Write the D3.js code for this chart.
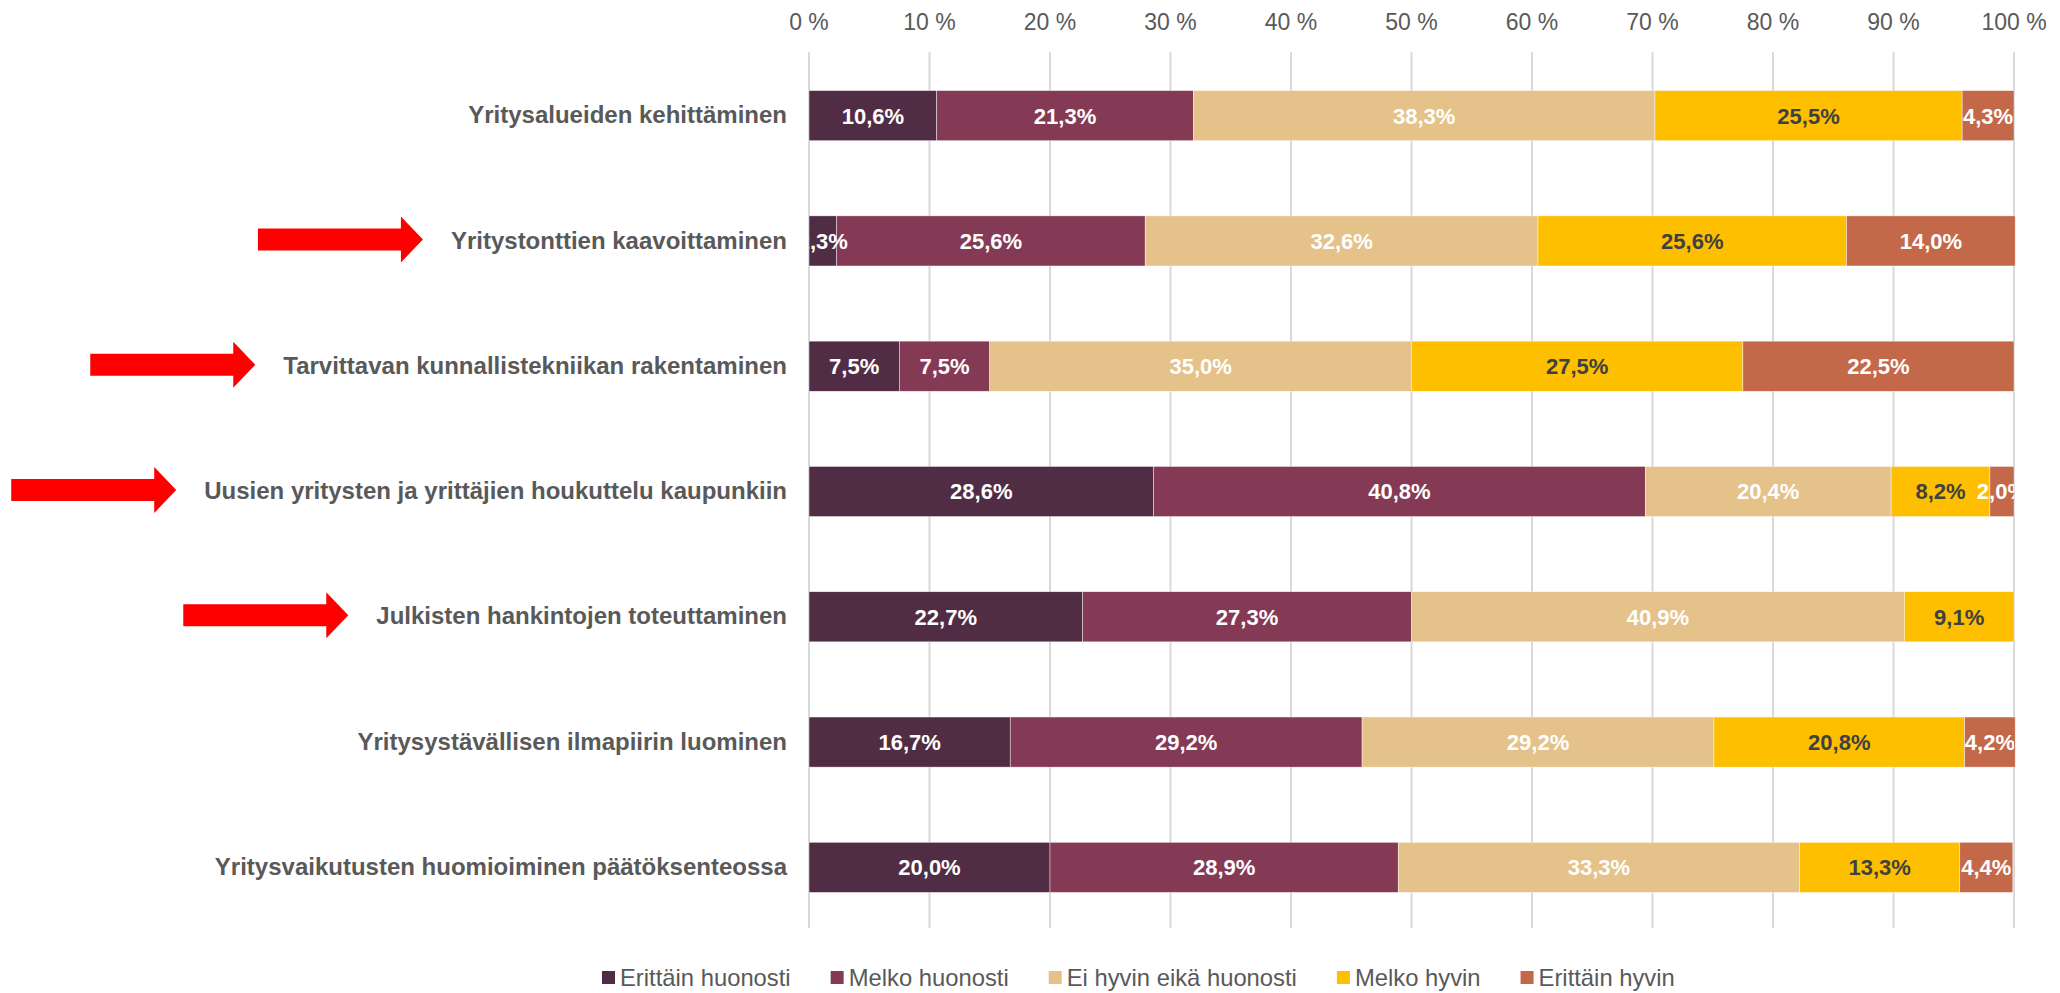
<!DOCTYPE html>
<html><head><meta charset="utf-8">
<script src="https://cdn.jsdelivr.net/npm/d3@7"></script>
<style>html,body{margin:0;padding:0;background:#fff;}svg{display:block;font-family:"Liberation Sans",Arial,sans-serif;}</style>
</head><body>
<svg id="chart" width="2060" height="993"></svg>
<script>
const categories = [
  "Yritysalueiden kehittäminen",
  "Yritystonttien kaavoittaminen",
  "Tarvittavan kunnallistekniikan rakentaminen",
  "Uusien yritysten ja yrittäjien houkuttelu kaupunkiin",
  "Julkisten hankintojen toteuttaminen",
  "Yritysystävällisen ilmapiirin luominen",
  "Yritysvaikutusten huomioiminen päätöksenteossa"
];
const seriesNames = ["Erittäin huonosti","Melko huonosti","Ei hyvin eikä huonosti","Melko hyvin","Erittäin hyvin"];
const erittainHuonosti = [10.6, 2.3, 7.5, 28.6, 22.7, 16.7, 20.0];
const melkoHuonosti   = [21.3, 25.6, 7.5, 40.8, 27.3, 29.2, 28.9];
const eiHyvinEika     = [38.3, 32.6, 35.0, 20.4, 40.9, 29.2, 33.3];
const melkoHyvin      = [25.5, 25.6, 27.5, 8.2, 9.1, 20.8, 13.3];
const erittainHyvin   = [4.3, 14.0, 22.5, 2.0, 0, 4.2, 4.4];
const arrowRows = [1, 2, 3, 4];
const tickValues = [0,10,20,30,40,50,60,70,80,90,100];

const colors = ["#512D45","#843A55","#E4C28A","#FDBF00","#C4684A"];
const labelColors = ["#ffffff","#ffffff","#ffffff","#404040","#ffffff"];
const seriesData = [erittainHuonosti, melkoHuonosti, eiHyvinEika, melkoHyvin, erittainHyvin];

const svg = d3.select("#chart");
const x = d3.scaleLinear().domain([0,100]).range([809, 2014]);
const y = d3.scaleBand().domain(categories).range([53, 930]).paddingInner(0.6).paddingOuter(0.3);

// gridlines
svg.append("g").selectAll("line").data(tickValues).join("line")
  .attr("x1", d => x(d)).attr("x2", d => x(d))
  .attr("y1", 52).attr("y2", 928)
  .attr("stroke", "#D9D9D9").attr("stroke-width", 2);

// top axis labels
svg.append("g").selectAll("text").data(tickValues).join("text")
  .attr("x", d => x(d)).attr("y", 30)
  .attr("text-anchor", "middle")
  .attr("font-size", 23).attr("fill", "#595959")
  .text(d => d + " %");

// stacked data
const rows = categories.map((c, i) => {
  let acc = 0;
  return seriesData.map((s, k) => {
    const v = s[i];
    const seg = {cat: c, k, v, x0: acc, x1: acc + v};
    acc += v;
    return seg;
  });
});
const segs = rows.flat();

svg.append("defs").append("clipPath").attr("id", "plotclip")
  .append("rect").attr("x", x(0)).attr("y", 0).attr("width", x(100) - x(0)).attr("height", 993);

svg.append("g").selectAll("rect").data(segs.filter(d => d.v > 0)).join("rect")
  .attr("x", d => x(d.x0))
  .attr("width", d => x(d.x1) - x(d.x0))
  .attr("y", d => y(d.cat))
  .attr("height", y.bandwidth())
  .attr("fill", d => colors[d.k])
  .attr("stroke", "#ffffff").attr("stroke-width", 0.6).attr("stroke-opacity", 0.7);

const fmt = v => v.toFixed(1).replace(".", ",") + "%";
svg.append("g").attr("clip-path", "url(#plotclip)")
  .selectAll("text").data(segs.filter(d => d.v > 0)).join("text")
  .attr("x", d => (x(d.x0) + x(d.x1)) / 2)
  .attr("y", d => y(d.cat) + y.bandwidth() / 2)
  .attr("dy", "0.36em")
  .attr("text-anchor", "middle")
  .attr("font-size", 22).attr("font-weight", "bold")
  .attr("fill", d => labelColors[d.k])
  .text(d => fmt(d.v));

// category labels
const catLabels = svg.append("g").selectAll("text").data(categories).join("text")
  .attr("x", 787)
  .attr("y", d => y(d) + y.bandwidth() / 2 - 1)
  .attr("dy", "0.36em")
  .attr("text-anchor", "end")
  .attr("font-size", 24).attr("font-weight", "bold")
  .attr("fill", "#595959")
  .text(d => d);

// arrows
const arrowG = svg.append("g");
catLabels.each(function(d, i) {
  if (!arrowRows.includes(i)) return;
  const bb = this.getBBox();
  const tip = bb.x - 28;
  const cy = y(d) + y.bandwidth() / 2 - 1.5;
  const headLen = 22, shaftLen = 143, shaftH = 11, headH = 23;
  const base = tip - headLen, start = base - shaftLen;
  const pts = [[start, cy - shaftH],[base, cy - shaftH],[base, cy - headH],[tip, cy],[base, cy + headH],[base, cy + shaftH],[start, cy + shaftH]];
  arrowG.append("path").attr("d", d3.line()(pts) + "Z").attr("fill", "#FF0000");
});

// legend
const lg = svg.append("g");
let lx = 602;
seriesNames.forEach((name, k) => {
  lg.append("rect").attr("x", lx).attr("y", 971).attr("width", 13).attr("height", 13).attr("fill", colors[k]);
  const t = lg.append("text").attr("x", lx + 18).attr("y", 986)
    .attr("font-size", 23.8).attr("fill", "#595959").text(name);
  lx += 18 + t.node().getComputedTextLength() + 40;
});
</script>
</body></html>
